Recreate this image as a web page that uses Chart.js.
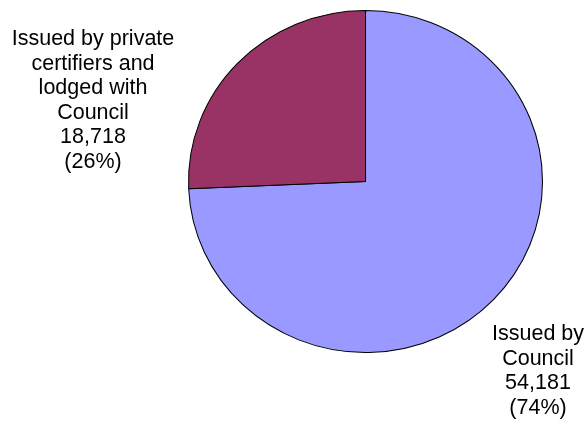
<!DOCTYPE html>
<html>
<head>
<meta charset="utf-8">
<title>Certificates issued</title>
<script src="https://cdn.jsdelivr.net/npm/chart.js@4/dist/chart.umd.min.js"></script>
<style>
  body { margin: 0; background: #fff; }
  canvas { display: block; }
</style>
</head>
<body>
<canvas id="myChart" width="586" height="425"></canvas>
<script>
// slice names, split into the lines they are printed on
var sliceNames = [
    ["Issued by", "Council"],
    ["Issued by private", "certifiers and", "lodged with", "Council"]
];
var sliceValues = [54181, 18718];
var sliceColors = ["#9999ff", "#993366"];

// where each label block sits (centre x, first baseline y)
var labelSpots = [
    { x: 538, y: 340 },
    { x: 93, y: 45 }
];

var total = sliceValues.reduce((a, b) => a + b, 0);

// the pie is drawn a little wider than tall
var widen = 1.035;
var widenPie = {
    id: "widenPie",
    beforeDatasetsDraw(chart) {
        var a = chart.chartArea;
        var cx = (a.left + a.right) / 2;
        chart.ctx.save();
        chart.ctx.translate(cx, 0);
        chart.ctx.scale(widen, 1);
        chart.ctx.translate(-cx, 0);
    },
    afterDatasetsDraw(chart) {
        chart.ctx.restore();
    }
};

// writes name, value and share next to each slice
var sliceLabels = {
    id: "sliceLabels",
    afterDraw(chart) {
        var ctx = chart.ctx;
        ctx.save();
        ctx.fillStyle = "#000";
        ctx.font = "21.5px 'Liberation Sans', Arial, sans-serif";
        ctx.textAlign = "center";
        ctx.textBaseline = "alphabetic";
        sliceValues.forEach((v, i) => {
            var lines = sliceNames[i].concat([
                v.toLocaleString("en-US"),
                "(" + Math.round(v / total * 100) + "%)"
            ]);
            lines.forEach((t, j) => {
                ctx.fillText(t, labelSpots[i].x, labelSpots[i].y + j * 24.6);
            });
        });
        ctx.restore();
    }
};

new Chart("myChart", {
    type: "pie",
    data: {
        labels: sliceNames.map(n => n.join(" ")),
        datasets: [{
            data: sliceValues,
            backgroundColor: sliceColors,
            borderColor: "#000",
            borderWidth: 1,
            hoverOffset: 0
        }]
    },
    options: {
        responsive: false,
        animation: false,
        events: [],
        layout: {
            padding: { left: 194, right: 49, top: 10, bottom: 72 }
        },
        plugins: {
            legend: { display: false },
            tooltip: { enabled: false }
        }
    },
    plugins: [widenPie, sliceLabels]
});
</script>
</body>
</html>
